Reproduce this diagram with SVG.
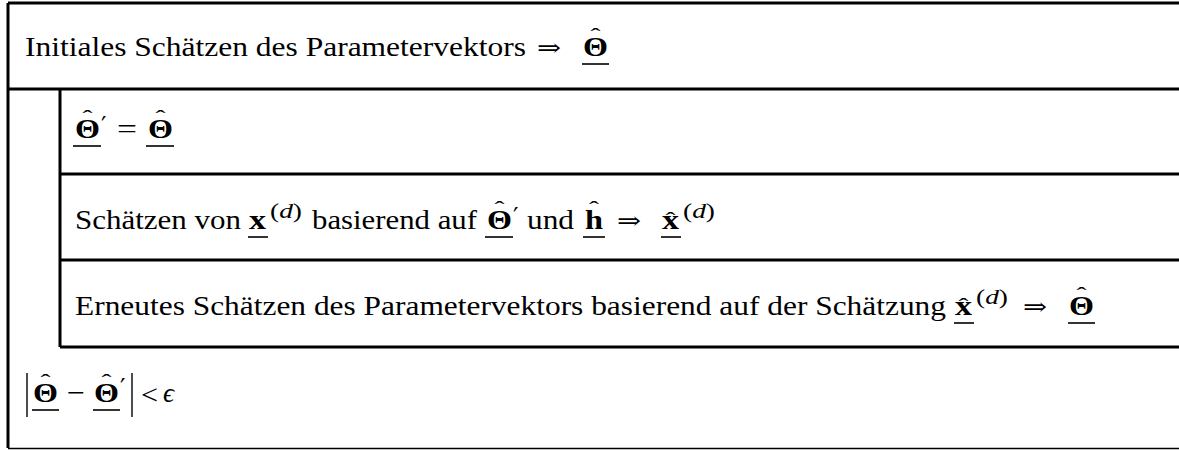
<svg xmlns="http://www.w3.org/2000/svg" width="1179" height="451" viewBox="0 0 1179 451">
<style>
.t{font-family:"Liberation Serif","DejaVu Serif",serif;font-size:28px;fill:#000}
.b{font-weight:bold}
.s{font-family:"Liberation Serif","DejaVu Serif",serif;font-size:20px;fill:#000}
.i{font-style:italic}
.hat{font-family:"Liberation Serif","DejaVu Serif",serif;font-size:20px;fill:#000;text-anchor:middle}
.sym{font-family:"DejaVu Serif",serif;font-size:24px;fill:#000}
.pr{font-family:"DejaVu Sans",sans-serif;font-size:24px;fill:#000}
.ul{stroke:#000;stroke-width:1.6}
.fr{stroke:#000;stroke-width:3;fill:none}
.bar{stroke:#000;stroke-width:1.4}
</style>
<rect width="1179" height="451" fill="#fff"/>
<g id="frame">
<path class="fr" d="M8,3H1179M8,89H1179M8,3V448M60,89V347M60,174H1179M60,260H1179M60,347H1179"/>
<path d="M8,448.5H1179" stroke="#000" stroke-width="1.5"/>
</g>
<g id="connectors"/>
<g id="node-init">
<text class="t" x="25" y="56" textLength="501" lengthAdjust="spacingAndGlyphs">Initiales Schätzen des Parametervektors</text>
<text class="sym" x="537" y="56" textLength="24" lengthAdjust="spacingAndGlyphs">⇒</text>
<text class="t b" x="583" y="56" textLength="25" lengthAdjust="spacingAndGlyphs">Θ</text>
<text class="hat" x="595.5" y="43" textLength="10" lengthAdjust="spacingAndGlyphs">ˆ</text>
<line class="ul" x1="582" y1="64" x2="609" y2="64"/>
</g>
<g id="node-assign">
<text class="t b" x="75" y="138" textLength="25" lengthAdjust="spacingAndGlyphs">Θ</text>
<text class="hat" x="87.5" y="125" textLength="10" lengthAdjust="spacingAndGlyphs">ˆ</text>
<line class="ul" x1="73" y1="146" x2="101" y2="146"/>
<text class="pr" x="101" y="134">′</text>
<text class="t" x="117" y="138" textLength="20" lengthAdjust="spacingAndGlyphs">=</text>
<text class="t b" x="148" y="138" textLength="25" lengthAdjust="spacingAndGlyphs">Θ</text>
<text class="hat" x="160.5" y="125" textLength="10" lengthAdjust="spacingAndGlyphs">ˆ</text>
<line class="ul" x1="146" y1="146" x2="174" y2="146"/>
</g>
<g id="node-estimate-x">
<text class="t" x="75" y="229" textLength="166" lengthAdjust="spacingAndGlyphs">Schätzen von</text>
<text class="t b" x="249" y="229" textLength="17" lengthAdjust="spacingAndGlyphs">x</text>
<line class="ul" x1="248" y1="237" x2="268" y2="237"/>
<text class="s" x="270" y="218" textLength="32" lengthAdjust="spacingAndGlyphs">(<tspan class="i">d</tspan>)</text>
<text class="t" x="312" y="229" textLength="165" lengthAdjust="spacingAndGlyphs">basierend auf</text>
<text class="t b" x="487" y="229" textLength="25" lengthAdjust="spacingAndGlyphs">Θ</text>
<text class="hat" x="499.5" y="216" textLength="10" lengthAdjust="spacingAndGlyphs">ˆ</text>
<line class="ul" x1="485" y1="237" x2="513" y2="237"/>
<text class="pr" x="513" y="225">′</text>
<text class="t" x="527" y="229" textLength="47" lengthAdjust="spacingAndGlyphs">und</text>
<text class="t b" x="585" y="229" textLength="18" lengthAdjust="spacingAndGlyphs">h</text>
<text class="hat" x="594" y="216" textLength="10" lengthAdjust="spacingAndGlyphs">ˆ</text>
<line class="ul" x1="583" y1="237" x2="605" y2="237"/>
<text class="sym" x="617" y="229" textLength="24" lengthAdjust="spacingAndGlyphs">⇒</text>
<text class="t b" x="662" y="229" textLength="17" lengthAdjust="spacingAndGlyphs">x</text>
<text class="hat" x="670.5" y="227" textLength="10" lengthAdjust="spacingAndGlyphs">ˆ</text>
<line class="ul" x1="661" y1="237" x2="681" y2="237"/>
<text class="s" x="683" y="218" textLength="32" lengthAdjust="spacingAndGlyphs">(<tspan class="i">d</tspan>)</text>
</g>
<g id="node-reestimate">
<text class="t" x="75" y="315" textLength="871" lengthAdjust="spacingAndGlyphs">Erneutes Schätzen des Parametervektors basierend auf der Schätzung</text>
<text class="t b" x="955" y="315" textLength="17" lengthAdjust="spacingAndGlyphs">x</text>
<text class="hat" x="963.5" y="313" textLength="10" lengthAdjust="spacingAndGlyphs">ˆ</text>
<line class="ul" x1="954" y1="323" x2="974" y2="323"/>
<text class="s" x="976" y="304" textLength="32" lengthAdjust="spacingAndGlyphs">(<tspan class="i">d</tspan>)</text>
<text class="sym" x="1023" y="315" textLength="24" lengthAdjust="spacingAndGlyphs">⇒</text>
<text class="t b" x="1069" y="315" textLength="25" lengthAdjust="spacingAndGlyphs">Θ</text>
<text class="hat" x="1081.5" y="302" textLength="10" lengthAdjust="spacingAndGlyphs">ˆ</text>
<line class="ul" x1="1068" y1="323" x2="1095" y2="323"/>
</g>
<g id="node-condition">
<line class="bar" x1="27" y1="373" x2="27" y2="417"/>
<text class="t b" x="33" y="402" textLength="25" lengthAdjust="spacingAndGlyphs">Θ</text>
<text class="hat" x="45.5" y="389" textLength="10" lengthAdjust="spacingAndGlyphs">ˆ</text>
<line class="ul" x1="32" y1="410" x2="59" y2="410"/>
<text class="t" x="67" y="402" textLength="18" lengthAdjust="spacingAndGlyphs">−</text>
<text class="t b" x="94" y="402" textLength="25" lengthAdjust="spacingAndGlyphs">Θ</text>
<text class="hat" x="106.5" y="389" textLength="10" lengthAdjust="spacingAndGlyphs">ˆ</text>
<line class="ul" x1="93" y1="410" x2="120" y2="410"/>
<text class="pr" x="120" y="396">′</text>
<line class="bar" x1="132" y1="373" x2="132" y2="417"/>
<text class="t" x="141" y="404" font-size="34" textLength="17" lengthAdjust="spacingAndGlyphs">&lt;</text>
<text class="t i" x="163" y="402" textLength="11" lengthAdjust="spacingAndGlyphs">ϵ</text>
</g>
</svg>
